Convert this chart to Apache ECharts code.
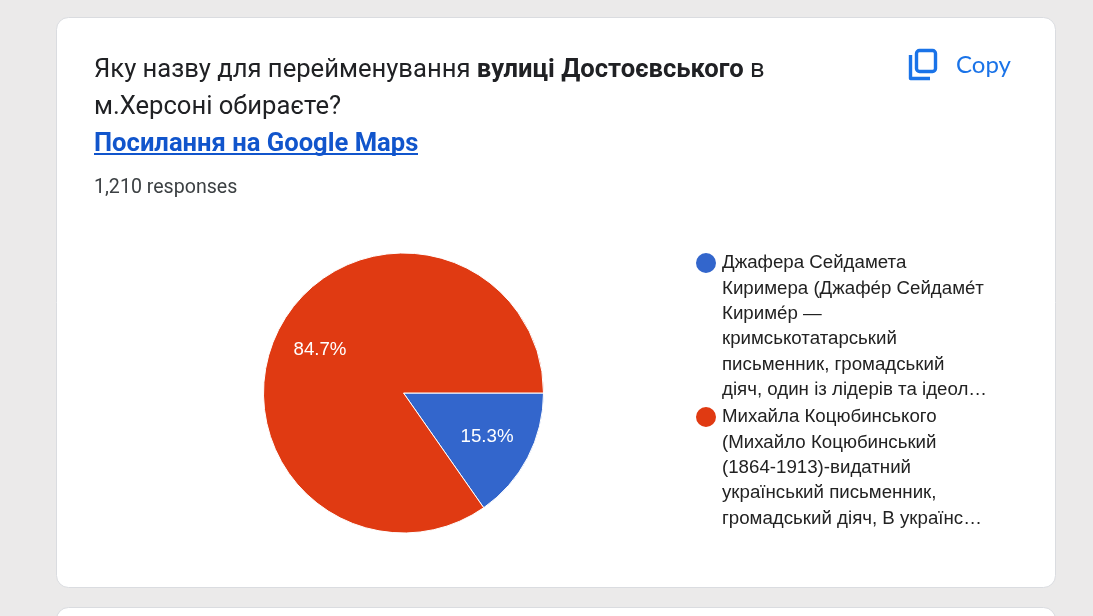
<!DOCTYPE html>
<html>
<head>
<meta charset="utf-8">
<style>
  html, body { margin: 0; padding: 0; background: #ebeaea; }
  #chart { width: 1093px; height: 616px; }
</style>
<script src="https://cdn.jsdelivr.net/npm/echarts@6/dist/echarts.min.js"></script>
</head>
<body>
<div id="chart"></div>
<script>
// Survey answers and their counts
const questionLine1 = 'Яку назву для перейменування ';
const questionBold = 'вулиці Достоєвського';
const questionLine1End = ' в';
const questionLine2 = 'м.Херсоні обираєте?';
const linkText = 'Посилання на Google Maps';
const responsesText = '1,210 responses';
const copyText = 'Copy';

const answers = [
  'Джафера Сейдамета\nКиримера (Джафе́р Сейдаме́т\nКириме́р —\nкримськотатарський\nписьменник, громадський\nдіяч, один із лідерів та ідеол…',
  'Михайла Коцюбинського\n(Михайло Коцюбинський\n(1864-1913)-видатний\nукраїнський письменник,\nгромадський діяч, В українс…'
];
const counts = [185, 1025];
const sliceColors = ['#3366cc', '#e03a12'];

const LEGEND_LINE = 25.4;
const PIE_CENTER = [403.5, 393];
const PIE_RADIUS = 140;

// A legend entry whose icon lines up with the first row of its wrapped label:
// blank rows above the label put that first row at the vertical middle of the item.
function legendFor(name, iconY) {
  const rows = name.split('\n').length;
  return {
    orient: 'vertical',
    left: 694,
    top: iconY - (2 * rows - 1) * LEGEND_LINE / 2,
    padding: 0,
    itemWidth: 22,
    itemHeight: 22,
    itemGap: 0,
    icon: 'circle',
    selectedMode: false,
    data: [name],
    formatter: label => '\n'.repeat(rows - 1) + label,
    textStyle: {
      fontFamily: '"Liberation Sans", Arial, sans-serif',
      fontSize: 18.7,
      color: '#222222',
      lineHeight: LEGEND_LINE
    }
  };
}

const chart = echarts.init(document.getElementById('chart'));
chart.setOption({
  animation: false,
  backgroundColor: '#ebeaea',
  legend: [legendFor(answers[0], 263), legendFor(answers[1], 417)],
  series: [{
    type: 'pie',
    center: PIE_CENTER,
    radius: PIE_RADIUS,
    startAngle: 0,
    clockwise: true,
    silent: true,
    z: 5,
    data: answers.map((name, i) => ({
      name,
      value: counts[i],
      itemStyle: { color: sliceColors[i] }
    })),
    itemStyle: { borderColor: '#ffffff', borderWidth: 1 },
    label: {
      position: 'inside',
      formatter: p => p.percent.toFixed(1) + '%',
      color: '#ffffff',
      fontFamily: '"Liberation Sans", Arial, sans-serif',
      fontSize: 18.7
    },
    labelLine: { show: false },
    // Push the inside labels outward from the default mid-radius spot
    labelLayout: params => {
      const cx = params.labelRect.x + params.labelRect.width / 2;
      const cy = params.labelRect.y + params.labelRect.height / 2;
      return { dx: (cx - PIE_CENTER[0]) * 0.29, dy: (cy - PIE_CENTER[1]) * 0.29 };
    }
  }],
  graphic: [
    // Card panels
    { type: 'rect', z: 0, shape: { x: 56.5, y: 17.5, width: 999, height: 570, r: 12 },
      style: { fill: '#ffffff', stroke: '#dadce0', lineWidth: 1 } },
    { type: 'rect', z: 0, shape: { x: 56.5, y: 607.5, width: 999, height: 80, r: 12 },
      style: { fill: '#ffffff', stroke: '#dadce0', lineWidth: 1 } },
    // Question heading
    { type: 'text', z: 3, left: 94, top: 58, style: {
        text: '{n|' + questionLine1 + '}{b|' + questionBold + '}{n|' + questionLine1End + '}',
        rich: {
          n: { fontFamily: 'Roboto', fontSize: 25.6, fill: '#202124', lineHeight: 32 },
          b: { fontFamily: 'Roboto', fontSize: 25.6, fontWeight: 'bold', fill: '#202124', lineHeight: 32 }
        }
    } },
    { type: 'text', z: 3, left: 94, top: 92, style: {
        text: questionLine2, fontFamily: 'Roboto', fontSize: 25.6, fill: '#202124', lineHeight: 32 } },
    // Link under the question
    { type: 'text', z: 3, left: 94, top: 129, style: {
        text: linkText, fontFamily: 'Roboto', fontSize: 25.6, fontWeight: 'bold', fill: '#1155cc', lineHeight: 32 } },
    { type: 'rect', z: 3, shape: { x: 94, y: 153, width: 324, height: 2 }, style: { fill: '#1155cc' } },
    // Response count
    { type: 'text', z: 3, left: 94, top: 176, style: {
        text: responsesText, fontFamily: 'Roboto', fontSize: 19.6, fill: '#3c4043', lineHeight: 24 } },
    // Copy action: front sheet and the edge of the sheet behind it
    { type: 'rect', z: 3, shape: { x: 916.5, y: 50.5, width: 19, height: 21, r: 3 },
      style: { fill: 'none', stroke: '#1a73e8', lineWidth: 3.4 } },
    { type: 'polyline', z: 3, shape: { points: [[910.5, 55], [910.5, 78.5], [930, 78.5]] },
      style: { fill: 'none', stroke: '#1a73e8', lineWidth: 3.4, lineJoin: 'round' } },
    { type: 'text', z: 3, left: 956, top: 52, style: {
        text: copyText, fontFamily: 'Lato', fontSize: 24, fill: '#1a73e8', lineHeight: 26 } }
  ]
});
</script>
</body>
</html>
